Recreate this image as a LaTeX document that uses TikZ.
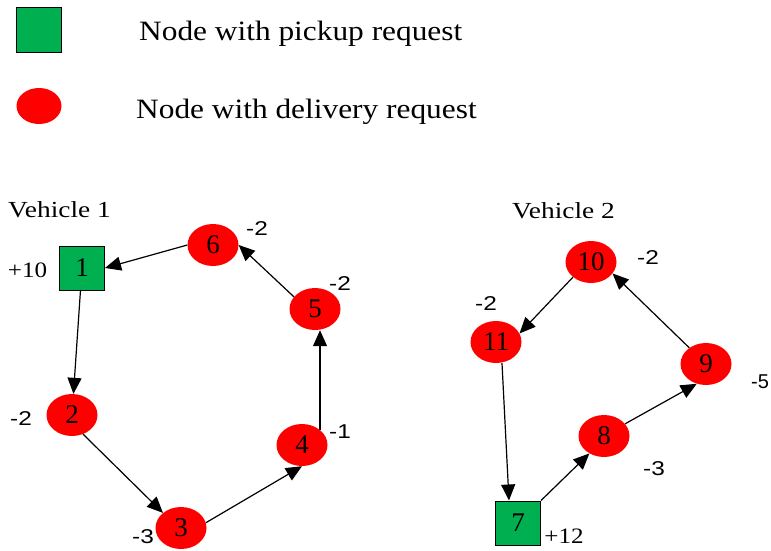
\documentclass[tikz,border=0pt]{standalone}
\usepackage{fontspec}
\setmainfont{Liberation Serif}
\newfontfamily\arialf{Liberation Sans}
\usetikzlibrary{shapes.geometric,arrows.meta,calc}
\definecolor{pgreen}{RGB}{0,176,80}
\definecolor{dred}{RGB}{255,0,0}
\newcommand{\wtext}[2]{\scalebox{#1}[1]{#2}}
\tikzset{
  dnode/.style={ellipse, fill=dred, minimum width=51pt, minimum height=42pt, inner sep=0pt, font=\fontsize{27}{30}\selectfont},
  pnode/.style={rectangle, draw=black, line width=1pt, fill=pgreen, minimum width=45pt, minimum height=44pt, inner sep=0pt, font=\fontsize{27}{30}\selectfont},
  legtext/.style={anchor=base west, inner sep=0pt, font=\fontsize{28}{32}\selectfont},
  vtext/.style={anchor=base west, inner sep=0pt, font=\fontsize{23}{26}\selectfont},
  plab/.style={anchor=base, inner sep=0pt, font=\fontsize{22}{25}\selectfont},
  mlab/.style={anchor=base, inner sep=0pt, font=\arialf\fontsize{20}{23}\selectfont},
  arr/.style={-{Triangle[length=16pt,width=14pt]}, line width=1.2pt},
}
\begin{document}
\begin{tikzpicture}[x=1pt,y=-1pt]
\useasboundingbox (0,0) rectangle (771,550);
% legend
\node[pnode, minimum width=45pt, minimum height=45pt] (legp) at (39,30) {};
\node[ellipse, fill=dred, minimum width=45pt, minimum height=36pt, inner sep=0pt] (legd) at (39,106) {};
\node[legtext] (legpt) at (139,40) {\wtext{1.12}{Node with pickup request}};
\node[legtext] (legdt) at (136,118) {\wtext{1.12}{Node with delivery request}};
% vehicle titles
\node[vtext] (v1) at (8,217) {\wtext{1.19}{Vehicle 1}};
\node[vtext] (v2) at (512,218) {\wtext{1.19}{Vehicle 2}};
% vehicle 1 nodes
\node[pnode] (n1) at (82,268) {1};
\node[dnode] (n2) at (72,415) {2};
\node[dnode] (n3) at (181,528) {3};
\node[dnode] (n4) at (302,445) {4};
\node[dnode] (n5) at (315,309) {5};
\node[dnode] (n6) at (213,245) {6};
% vehicle 2 nodes
\node[pnode] (n7) at (518,523) {7};
\node[dnode] (n8) at (604,436) {8};
\node[dnode] (n9) at (706,364) {9};
\node[dnode] (n10) at (591,262) {10};
\node[dnode] (n11) at (496,342) {11};
% demand labels
\node[plab] (l1) at (27.5,277) {\wtext{1.14}{+10}};
\node[mlab] (l2) at (21,425) {\wtext{1.22}{-2}};
\node[mlab] (l3) at (143,543) {\wtext{1.22}{-3}};
\node[mlab] (l4) at (340,438) {\wtext{1.22}{-1}};
\node[mlab] (l5) at (340,290) {\wtext{1.22}{-2}};
\node[mlab] (l6) at (257,235) {\wtext{1.22}{-2}};
\node[plab] (l7) at (564,543) {\wtext{1.14}{+12}};
\node[mlab] (l8) at (654,475) {\wtext{1.22}{-3}};
\node[mlab, anchor=base west] (l9) at (751,388) {-5};
\node[mlab] (l10) at (648,264) {\wtext{1.22}{-2}};
\node[mlab] (l11) at (486,310) {\wtext{1.22}{-2}};
% vehicle 1 route
\draw[arr] (n6.west) -- (n1.east);
\draw[arr] (n1) -- (n2);
\draw[arr] (n2.-60) -- (n3.140);
\draw[arr] (n3.12) -- (n4.south);
\draw[arr] (n4.40) -- (n4.40 |- n5.south);
\draw[arr] (n5.150) -- (n6.east);
% vehicle 2 route
\draw[arr] (n7.north east) -- (n8.-130);
\draw[arr] (n8.30) -- (n9.-115);
\draw[arr] (n9) -- (n10.-28);
\draw[arr] (n10.-140) -- (n11.20);
\draw[arr] ($(n11.south)+(6,0)$) -- ($(n7.north)+(-9,0)$);
\end{tikzpicture}
\end{document}
